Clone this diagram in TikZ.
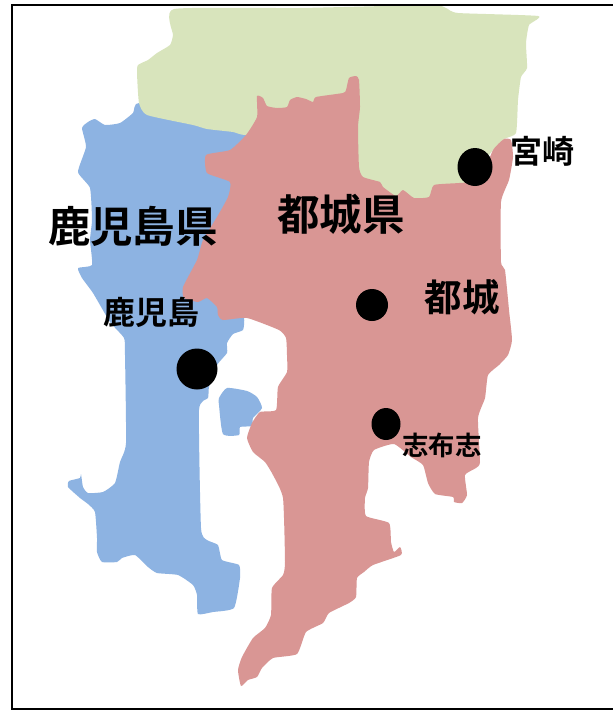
\documentclass[tikz,border=0pt]{standalone}
\usepackage{fontspec}
\usetikzlibrary{shapes.geometric}
\newfontfamily\cjk{Noto Sans CJK JP}[BoldFont={Noto Sans CJK JP Bold}]
\definecolor{mapblue}{HTML}{8DB3E2}
\definecolor{mapred}{HTML}{D99694}
\definecolor{mapgreen}{HTML}{D8E4BC}
\tikzset{
  city/.style={fill=black,draw=none},
  lbl/.style={inner sep=0pt,font=\cjk\bfseries\fontsize{#1}{#1}\selectfont}
}
\begin{document}
\begin{tikzpicture}[x=1pt,y=-1pt]
\useasboundingbox (0,0) rectangle (613,710);
\fill[white] (0,0) rectangle (613,710);
% Kagoshima (blue)
\fill[mapblue] plot[smooth cycle,tension=0.3] coordinates {
(139,103)(133,113)(120,123)(105,125)(95,119)(88,122)(82,128)(86,147)(78,172)(90,188)(92,220)(90,240)(92,265)(78,268)(82,278)(93,293)(110,322)(124,338)(125,355)(126,443)(120,462)(115,483)(103,492)(88,493)(83,487)(81,474)(80,478)(69,481)(68,487)(80,498)(88,504)(95,512)(97,538)(97,552)(102,562)(117,562)(122,558)(135,555)(148,567)(157,573)(178,575)(193,585)(197,595)(198,614)(213,612)(234,608)(240,578)(239,565)(222,560)(218,545)(207,540)(201,528)(199,410)(208,398)(209,387)(217,365)(227,353)(227,343)(233,334)(243,330)(244,318)(235,300)(232,170)(246,135)(200,120)};
\fill[mapblue] plot[smooth cycle,tension=0.35] coordinates {
(219,398)(227,388)(247,391)(257,397)(262,408)(253,418)(252,426)(240,427)(239,435)(223,434)(219,405)};
% Miyazaki (green)
\fill[mapgreen] plot[smooth cycle,tension=0.3] coordinates {
(174,9)(173,35)(170,45)(157,53)(148,60)(138,65)(137,73)(139,103)(147,115)(193,125)(207,129)(233,132)(246,135)(300,130)(340,150)(370,192)(400,206)(459,190)(493,150)(504,139)(516,133)(518,100)(521,77)(527,68)(526,43)(529,25)(538,16)(458,13)(446,8)(431,5)(300,8)};
% Miyakonojo (red)
\fill[mapred] plot[smooth cycle,tension=0.3] coordinates {
(246,135)(257,117)(257,96)(263,98)(267,106)(277,108)(287,107)(290,100)(297,97)(306,99)(313,102)(316,97)(343,93)(346,90)(349,78)(356,76)(359,80)(360,107)(358,127)(359,167)(363,177)(380,182)(383,187)(396,196)(403,190)(414,198)(429,197)(434,185)(459,183)(480,180)(493,150)(504,139)(511,140)(513,157)(509,180)(501,202)(501,262)(505,270)(509,310)(512,340)(508,355)(499,365)(488,375)(485,398)(478,418)(480,462)(476,468)(465,475)(467,495)(462,503)(454,502)(453,497)(435,494)(428,483)(423,465)(411,457)(394,444)(374,450)(369,462)(368,488)(365,498)(366,516)(389,523)(391,542)(394,552)(400,547)(401,555)(373,565)(364,572)(357,578)(356,597)(349,603)(329,613)(323,623)(306,632)(297,654)(273,658)(262,668)(257,677)(248,680)(241,686)(238,670)(242,657)(253,638)(265,628)(271,615)(272,588)(283,575)(285,562)(283,498)(273,475)(265,462)(253,452)(247,438)(252,423)(260,412)(276,410)(278,387)(287,372)(287,355)(286,338)(279,330)(247,318)(223,320)(218,315)(217,307)(207,298)(198,302)(184,298)(183,287)(197,260)(203,240)(217,217)(228,197)(230,182)(207,173)(206,155)(230,150)};
% Frame
\draw[line width=2pt] (614,5) -- (12,5) -- (12,709) -- (614,709);
% Cities
\node[city,circle,minimum size=41pt,inner sep=0pt] (kagoshima) at (197,369) {};
\node[city,ellipse,minimum width=35pt,minimum height=38pt,inner sep=0pt] (miyazaki) at (475,167) {};
\node[city,circle,minimum size=32pt,inner sep=0pt] (miyakonojo) at (372,305) {};
\node[city,ellipse,minimum width=29pt,minimum height=32pt,inner sep=0pt] (shibushi) at (386,424) {};
% Labels
\node[lbl=42.5] (l1) at (133,226) {鹿児島県};
\node[lbl=42.5] (l2) at (341,214) {都城県};
\node[lbl=32] (l3) at (151,312) {鹿児島};
\node[lbl=37.5] (l4) at (462,297) {都城};
\node[lbl=32] (l5) at (542,151) {宮崎};
\node[lbl=26.4] (l6) at (442,445) {志布志};
\end{tikzpicture}
\end{document}
